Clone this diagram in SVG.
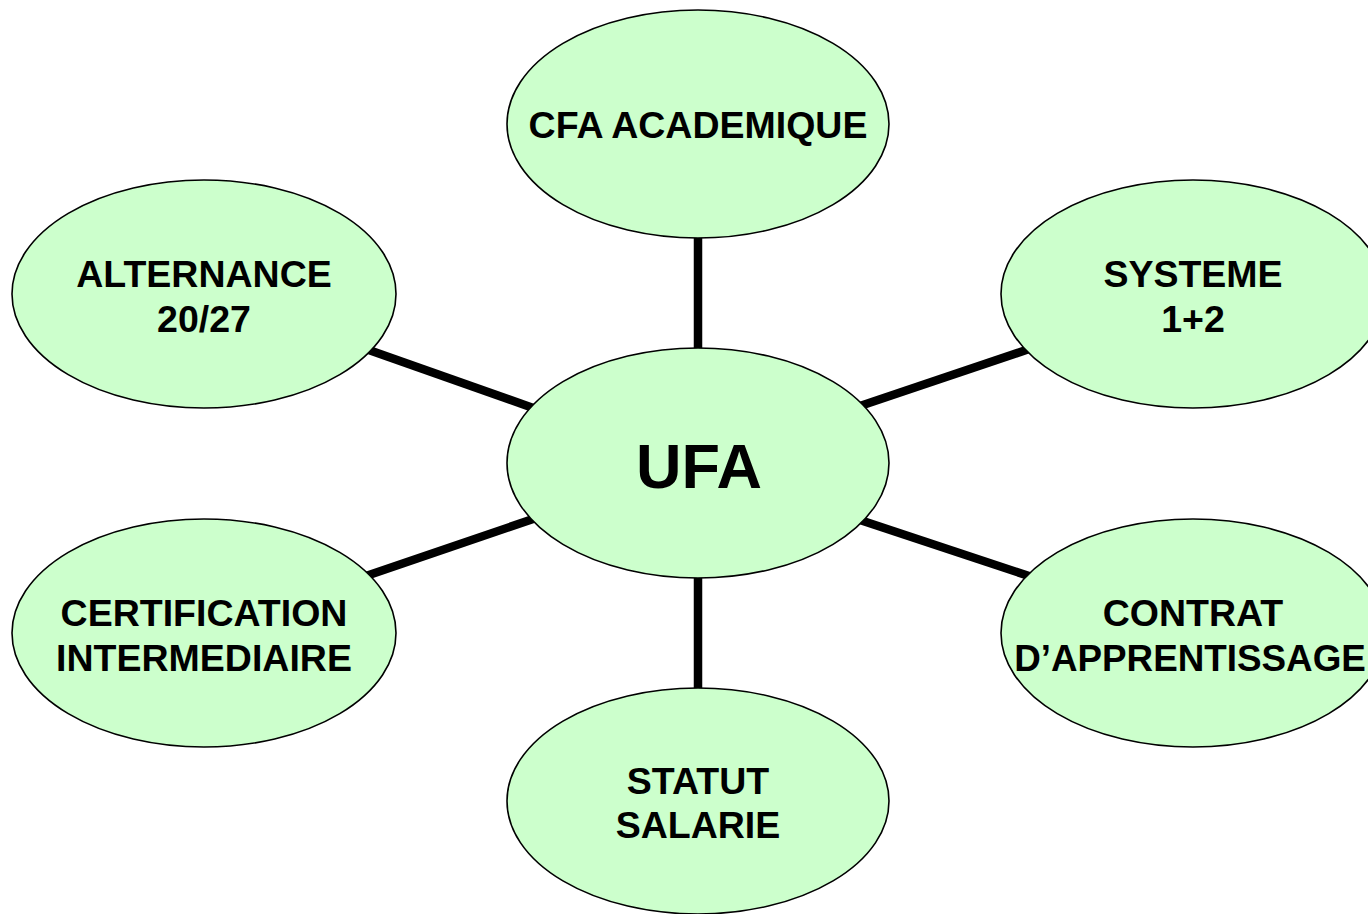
<svg xmlns="http://www.w3.org/2000/svg" width="1368" height="914" viewBox="0 0 1368 914">
<style>
.n{fill:#CCFFCC;stroke:#000;stroke-width:1.6}
.t{font-family:"Liberation Sans",Arial,sans-serif;font-weight:bold;font-size:37.5px;fill:#000;text-anchor:middle}
.c{stroke:#000;stroke-width:8.5;fill:none}
</style>
<rect width="1368" height="914" fill="#fff"/>
<g id="connectors">
<line class="c" x1="698" y1="236" x2="698" y2="350"/>
<line class="c" x1="366" y1="349" x2="536" y2="409"/>
<line class="c" x1="860" y1="406" x2="1032" y2="348"/>
<line class="c" x1="366" y1="576" x2="536" y2="518"/>
<line class="c" x1="860" y1="520" x2="1032" y2="577"/>
<line class="c" x1="698" y1="576" x2="698" y2="690"/>
</g>
<g id="cfa"><ellipse class="n" cx="698" cy="124" rx="191" ry="114"/><text class="t" x="698" y="138">CFA ACADEMIQUE</text></g>
<g id="alternance"><ellipse class="n" cx="204" cy="294" rx="192" ry="114"/><text class="t" x="204" y="287">ALTERNANCE</text><text class="t" x="204" y="332">20/27</text></g>
<g id="systeme"><ellipse class="n" cx="1193" cy="294" rx="192" ry="114"/><text class="t" x="1193" y="287">SYSTEME</text><text class="t" x="1193" y="332">1+2</text></g>
<g id="ufa"><ellipse class="n" cx="698" cy="463" rx="191" ry="115"/><text class="t" x="699" y="488" style="font-size:63px">UFA</text></g>
<g id="certification"><ellipse class="n" cx="204" cy="633" rx="192" ry="114"/><text class="t" x="204" y="626">CERTIFICATION</text><text class="t" x="204" y="671">INTERMEDIAIRE</text></g>
<g id="contrat"><ellipse class="n" cx="1193" cy="633" rx="192" ry="114"/><text class="t" x="1193" y="626">CONTRAT</text><text class="t" x="1190" y="671" style="font-size:36.8px">D’APPRENTISSAGE</text></g>
<g id="statut"><ellipse class="n" cx="698" cy="801" rx="191" ry="113"/><text class="t" x="698" y="794">STATUT</text><text class="t" x="698" y="838">SALARIE</text></g>
</svg>
